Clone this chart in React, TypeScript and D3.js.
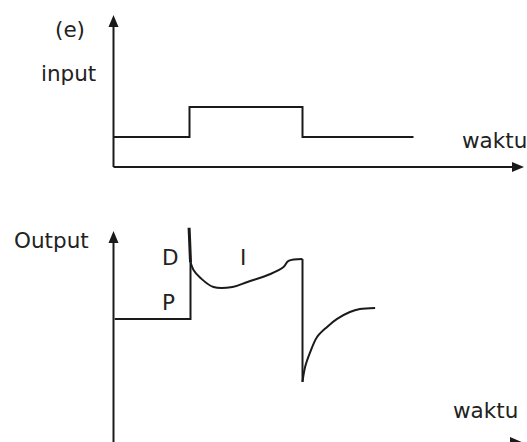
import React from "react";
import * as d3 from "d3";

// ---- data ----
const inputTimes = [0, 19, 47.25, 75];
const inputValues = [1, 2, 1, 1];

const stepTimes = [0.3, 19.25, 19.25];
const stepValues = [58.6, 58.6, 85.7];

const spikeTimes = [18.9, 19.25];
const spikeValues = [102, 85.7];

const curveITimes = [19.25, 20, 21.75, 25, 29.75, 33.5, 39.25, 42.5, 43.75, 47.25];
const curveIValues = [85.7, 81.9, 78.1, 73.8, 73.8, 76.2, 80, 83.3, 86.2, 87.1];

const dropTimes = [47.25, 47.25];
const dropValues = [87.1, 28.6];

const recoveryTimes = [47.25, 47.9, 49.1, 50.9, 53.4, 55.9, 59.1, 61.6, 65.4];
const recoveryValues = [28.6, 35.7, 42.4, 50, 54.8, 58.6, 61.9, 63.3, 63.8];

const labels = {
  e: "(e)",
  input: "input",
  output: "Output",
  time: "waktu",
  d: "D",
  i: "I",
  p: "P",
};

export default function App() {
  const W = 527;
  const H = 442;
  const x = d3.scaleLinear().domain([0, 100]).range([113.5, 513.5]);
  const yTop = d3.scaleLinear().domain([0, 5]).range([167, 17]);
  const yBot = d3.scaleLinear().domain([0, 100]).range([442, 232]);

  const stroke = "#1a1a1a";
  const font = "'DejaVu Sans', Verdana, sans-serif";

  const toPts = (ts: number[], vs: number[]) => ts.map((t, i) => [t, vs[i]] as [number, number]);

  const inputLine = d3
    .line<[number, number]>()
    .x((d) => x(d[0]))
    .y((d) => yTop(d[1]))
    .curve(d3.curveStepAfter);

  const linBot = d3
    .line<[number, number]>()
    .x((d) => x(d[0]))
    .y((d) => yBot(d[1]));

  const smoothBot = d3
    .line<[number, number]>()
    .x((d) => x(d[0]))
    .y((d) => yBot(d[1]))
    .curve(d3.curveCatmullRom.alpha(0.5));

  const x0 = x(0);
  const topAxisY = yTop(0);
  const botAxisY = yBot(0);
  const arrowEnd = 524;

  return (
    <svg
      width={W}
      height={H}
      style={{ position: "absolute", left: 0, top: 0, background: "#fff" }}
    >
      {/* top panel axes */}
      <line x1={x0} y1={topAxisY} x2={x0} y2={24} stroke={stroke} strokeWidth={2} />
      <path d={`M${x0 - 5},27 L${x0},15 L${x0 + 5},27 Z`} fill={stroke} />
      <line x1={x0} y1={topAxisY} x2={arrowEnd - 8} y2={topAxisY} stroke={stroke} strokeWidth={2} />
      <path
        d={`M${arrowEnd - 12},${topAxisY - 5} L${arrowEnd},${topAxisY} L${arrowEnd - 12},${topAxisY + 5} Z`}
        fill={stroke}
      />
      <path
        d={inputLine(toPts(inputTimes, inputValues)) || ""}
        fill="none"
        stroke={stroke}
        strokeWidth={2}
      />

      {/* bottom panel axes */}
      <line x1={x0} y1={H + 2} x2={x0} y2={240} stroke={stroke} strokeWidth={2} />
      <path d={`M${x0 - 5},243 L${x0},231 L${x0 + 5},243 Z`} fill={stroke} />
      <line x1={x0} y1={botAxisY + 1} x2={arrowEnd - 8} y2={botAxisY + 1} stroke={stroke} strokeWidth={2} />
      <path
        d={`M${arrowEnd - 14},${botAxisY - 5} L${arrowEnd},${botAxisY + 1} L${arrowEnd - 14},${botAxisY + 7} Z`}
        fill={stroke}
      />

      <path d={linBot(toPts(stepTimes, stepValues)) || ""} fill="none" stroke={stroke} strokeWidth={2} />
      <path d={linBot(toPts(spikeTimes, spikeValues)) || ""} fill="none" stroke={stroke} strokeWidth={3} />
      <path d={smoothBot(toPts(curveITimes, curveIValues)) || ""} fill="none" stroke={stroke} strokeWidth={2} />
      <path d={linBot(toPts(dropTimes, dropValues)) || ""} fill="none" stroke={stroke} strokeWidth={2} />
      <path d={smoothBot(toPts(recoveryTimes, recoveryValues)) || ""} fill="none" stroke={stroke} strokeWidth={2} />

      {/* labels */}
      <g fontFamily={font} fontSize={21.5} fill="#222">
        <text x={55} y={37}>{labels.e}</text>
        <text x={41} y={81}>{labels.input}</text>
        <text x={462} y={148}>{labels.time}</text>
        <text x={14} y={248}>{labels.output}</text>
        <text x={162} y={265}>{labels.d}</text>
        <text x={240} y={265}>{labels.i}</text>
        <text x={162} y={310}>{labels.p}</text>
        <text x={453} y={418}>{labels.time}</text>
      </g>
    </svg>
  );
}
